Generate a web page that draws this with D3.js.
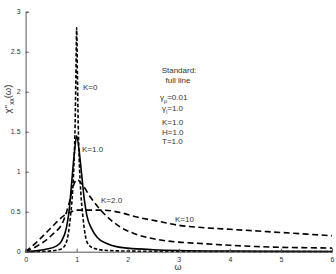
<!DOCTYPE html>
<html><head><meta charset="utf-8">
<script src="https://cdn.jsdelivr.net/npm/d3@7"></script>
<style>body{margin:0;background:#fff}svg{display:block}text{font-family:"Liberation Sans",Arial,sans-serif;fill:#333}</style>
</head><body><svg id="c" width="336" height="274"></svg>
<script>
const xTicks = [0,1,2,3,4,5,6];
const yTicks = [0,0.5,1,1.5,2,2.5,3];
const yTickLabels = ["0","0.5","1","1.5","2","2.5","3"];
// K=0 (dashed spike)
const k0W = [0,0.3,0.5,0.7,0.78,0.83,0.88,0.92,0.95,0.97,0.985,1.0,1.015,1.03,1.05,1.08,1.12,1.17,1.23,1.35,1.6,2,3,4,5,6];
const k0V = [0,0.003,0.01,0.035,0.09,0.2,0.45,0.75,1.15,1.6,2.2,2.8,2.2,1.6,1.15,0.75,0.45,0.2,0.09,0.04,0.015,0.008,0.003,0.002,0.001,0.001];
// K=1.0 (standard, solid)
const k1W = [0,0.2,0.4,0.6,0.7,0.8,0.85,0.9,0.95,1.0,1.05,1.1,1.15,1.2,1.3,1.4,1.6,1.8,2.0,2.5,3,4,5,6];
const k1V = [0,0.01,0.03,0.07,0.13,0.3,0.5,0.85,1.2,1.45,1.25,0.95,0.65,0.45,0.28,0.18,0.1,0.06,0.045,0.025,0.015,0.008,0.005,0.003];
// K=2.0 (dashed)
const k2W = [0,0.25,0.5,0.75,0.85,0.95,1.0,1.1,1.25,1.5,1.85,2.2,2.6,3,3.5,4,4.5,5,5.5,6];
const k2V = [0,0.08,0.2,0.4,0.6,0.85,0.9,0.85,0.7,0.5,0.31,0.21,0.15,0.12,0.1,0.08,0.065,0.055,0.05,0.045];
// K=10 (dashed)
const k10W = [0,0.25,0.5,0.75,0.9,1.0,1.5,1.85,2.2,2.6,3,3.5,4,4.5,5,5.5,6];
const k10V = [0,0.14,0.3,0.45,0.5,0.52,0.52,0.49,0.43,0.38,0.33,0.3,0.28,0.26,0.24,0.22,0.2];

const svg = d3.select("#c");
const x = d3.scaleLinear().domain([0,6]).range([25.6,332]);
const y = d3.scaleLinear().domain([0,3]).range([251.7,11.7]);

const line = d3.line().x(d=>x(d[0])).y(d=>y(d[1])).curve(d3.curveMonotoneX);
const series = [
  {w:k10W,v:k10V,dash:"6,3.5"},
  {w:k2W,v:k2V,dash:"6,3.5"},
  {w:k0W,v:k0V,dash:"3.5,2"},
  {w:k1W,v:k1V,dash:null}
];
series.forEach(s=>{
  const p = svg.append("path").datum(s.w.map((w,i)=>[w,s.v[i]]))
    .attr("d",line).attr("fill","none").attr("stroke","#000").attr("stroke-width",1.6);
  if(s.dash) p.attr("stroke-dasharray",s.dash);
});

const xa = svg.append("g").attr("transform","translate(0,251.7)")
  .call(d3.axisBottom(x).tickValues(xTicks).tickSize(-3).tickPadding(5).tickFormat(d3.format("d")));
const ya = svg.append("g").attr("transform","translate(25.6,0)")
  .call(d3.axisLeft(y).tickValues(yTicks).tickSize(-3).tickPadding(5).tickFormat((d,i)=>yTickLabels[i]));
[xa,ya].forEach(a=>{
  a.select(".domain").attr("stroke","#555").attr("stroke-width",1);
  a.selectAll(".tick line").attr("stroke","#555");
  a.selectAll(".tick text").attr("font-size",7).attr("fill","#444").style("font-family","Liberation Sans, Arial, sans-serif");
});

function txt(t,px,py,anchor){
  return svg.append("text").attr("x",px).attr("y",py).attr("font-size",8).attr("text-anchor",anchor||"start").text(t);
}
txt("K=0",83,90);
txt("K=1.0",82,152);
txt("K=2.0",101,203);
txt("K=10",175,222);
txt("Standard:",179,73,"middle");
txt("full line",178,83,"middle");
const g1 = svg.append("text").attr("x",160).attr("y",100).attr("font-size",8);
g1.append("tspan").text("γ");
g1.append("tspan").attr("dy",2.5).attr("font-size",5.5).text("μ");
g1.append("tspan").attr("dy",-2.5).text("=0.01");
const g2 = svg.append("text").attr("x",162).attr("y",111).attr("font-size",8);
g2.append("tspan").text("γ");
g2.append("tspan").attr("dy",2.5).attr("font-size",5.5).text("l");
g2.append("tspan").attr("dy",-2.5).text("=1.0");
txt("K=1.0",162,125);
txt("H=1.0",162,135);
txt("T=1.0",162,144);

svg.append("text").attr("x",178).attr("y",270).attr("font-size",9).attr("text-anchor","middle").text("ω");
const yl = svg.append("text").attr("transform","translate(11,99) rotate(-90)").attr("font-size",9.5).attr("text-anchor","middle");
yl.append("tspan").text("χ''");
yl.append("tspan").attr("dy",3).attr("font-size",6.5).text("xx");
yl.append("tspan").attr("dy",-3).text("(ω)");
</script></body></html>
